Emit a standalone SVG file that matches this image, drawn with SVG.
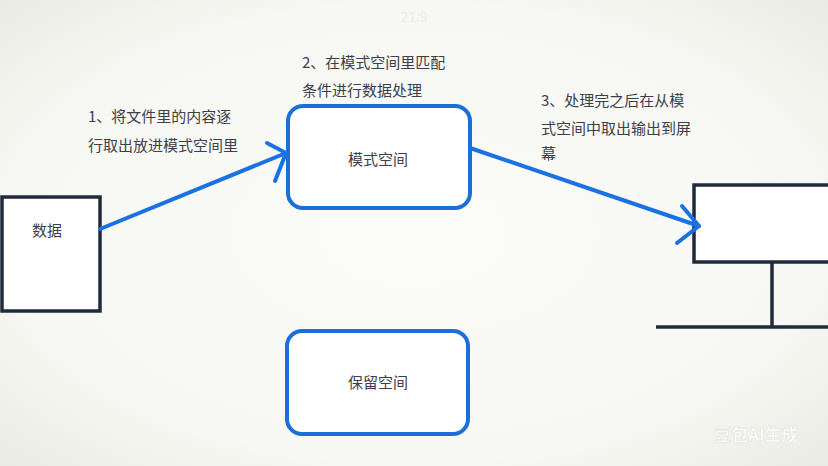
<svg xmlns="http://www.w3.org/2000/svg" width="828" height="466" viewBox="0 0 828 466">
<defs>
<radialGradient id="bg" cx="50%" cy="50%" r="70%">
<stop offset="0" stop-color="#fbfbf9"/>
<stop offset="0.7" stop-color="#f7f7f3"/>
<stop offset="1" stop-color="#ebebe6"/>
</radialGradient>
</defs>
<style>
.t{font-family:"Noto Sans CJK SC","Liberation Sans",sans-serif;font-size:15px;fill:#3b404a}
.c{text-anchor:middle}
.blue{fill:#fff;stroke:#1b6fd8;stroke-width:4}
.dark{fill:#fff;stroke:#1f2b3b;stroke-width:3.5}
.conn{fill:none;stroke:#1a72e2;stroke-width:4;stroke-linecap:round;stroke-linejoin:round}
</style>
<rect width="828" height="466" fill="url(#bg)"/>
<text x="414" y="22" class="t c" style="fill:#ececea;font-size:14px">21:9</text>
<g id="data">
<rect x="2" y="197" width="98" height="114" class="dark"/>
<text x="47" y="236" class="t c">数据</text>
</g>
<g id="pattern-space">
<rect x="288" y="106" width="182" height="102" rx="15" class="blue"/>
<text x="378" y="165" class="t c">模式空间</text>
</g>
<g id="hold-space">
<rect x="287" y="331" width="181" height="103" rx="15" class="blue"/>
<text x="378" y="388" class="t c">保留空间</text>
</g>
<g id="screen">
<rect x="694" y="185" width="140" height="77" class="dark"/>
<line x1="772" y1="262" x2="772" y2="328" stroke="#1f2b3b" stroke-width="3.5"/>
<line x1="656" y1="327" x2="830" y2="327" stroke="#1f2b3b" stroke-width="3.5"/>
</g>
<g id="connectors">
<path d="M100 229 L286 153" class="conn"/>
<path d="M267 143 L286 153 L275 181" class="conn"/>
<path d="M470 148 L699 226" class="conn"/>
<path d="M682 206 L699 226 L677 243" class="conn"/>
</g>
<g id="labels">
<text x="88" y="122" class="t">1、将文件里的内容逐</text>
<text x="88" y="151" class="t">行取出放进模式空间里</text>
<text x="302" y="68" class="t">2、在模式空间里匹配</text>
<text x="302" y="96" class="t">条件进行数据处理</text>
<text x="541" y="106" class="t">3、处理完之后在从模</text>
<text x="541" y="134" class="t">式空间中取出输出到屏</text>
<text x="541" y="159" class="t">幕</text>
</g>
<text x="714" y="441" style="font-family:'Noto Sans CJK SC',sans-serif;font-size:17px;font-weight:bold;fill:#ffffff;stroke:#e4e4e0;stroke-width:0.6">豆包AI生成</text>
</svg>
